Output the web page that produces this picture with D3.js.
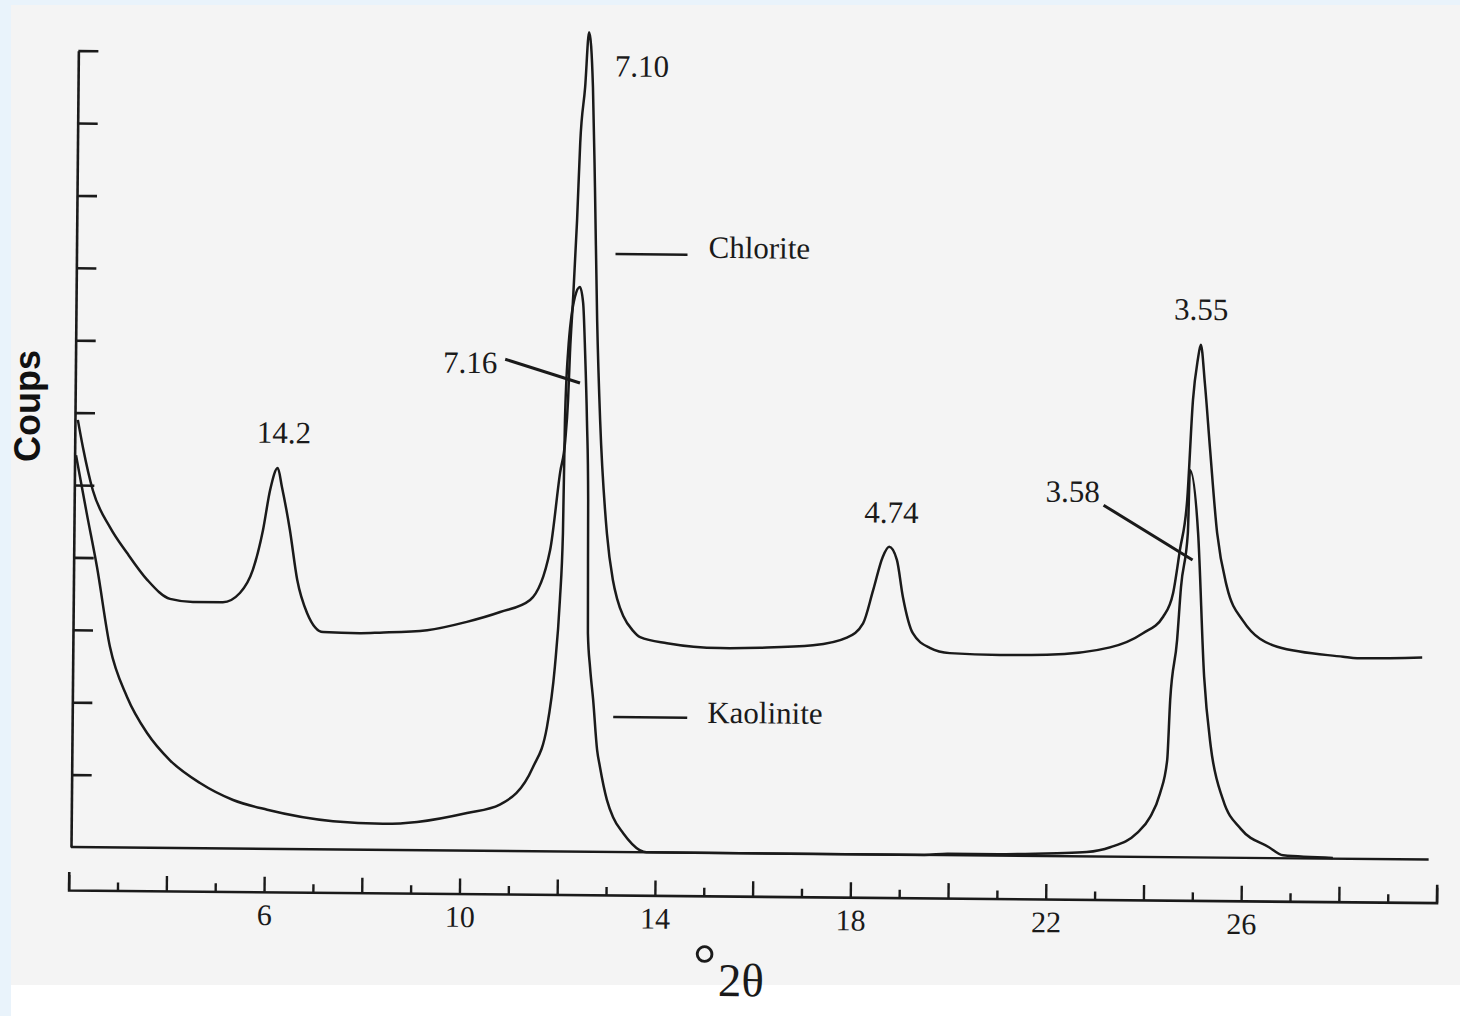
<!DOCTYPE html>
<html>
<head>
<meta charset="utf-8">
<script src="https://cdn.jsdelivr.net/npm/d3@7"></script>
<style>
  html, body { margin: 0; padding: 0; background: #e9f3fb; }
  svg { display: block; }
</style>
</head>
<body>
<svg id="chart" width="1460" height="1016"></svg>
<script>
// ---- Diffractogram traces: 2θ (degrees) and counts ----
const chloriteTheta = [
  2.10, 2.21, 2.42, 2.78, 3.13, 3.55, 4.02, 4.49, 5.10, 5.45, 5.71, 5.91, 6.05, 6.20, 6.29, 6.46,
  6.62, 6.83, 7.16, 7.91, 8.32, 9.29, 10.10, 10.78, 11.39, 11.79, 11.98, 12.08, 12.13, 12.16, 12.21,
  12.28, 12.33, 12.42, 12.49, 12.58, 12.64, 12.71, 12.79, 12.95, 13.08, 13.17, 13.30, 13.50, 13.65,
  14.20, 15.29, 16.11, 17.19, 17.88, 18.21, 18.41, 18.60, 18.73, 18.89, 19.02, 19.23, 19.58, 19.99,
  21.02, 21.98, 23.27, 23.94, 24.35, 24.55, 24.68, 24.82, 24.92, 25.01, 25.07, 25.16, 25.28, 25.44,
  25.65, 25.98, 26.69, 28.04, 28.33, 29.66
];
const chloriteCounts = [
  590, 552, 493, 442, 407, 370, 344, 340, 340, 353, 385, 440, 496, 526, 500, 441,
  372, 326, 300, 299, 300, 304, 316, 330, 347, 416, 523, 568, 624, 689, 759,
  872, 979, 1056, 1132, 1056, 918, 734, 596, 440, 376, 350, 326, 306, 297,
  289, 283, 284, 288, 299, 319, 365, 411, 425, 407, 356, 306, 286, 279,
  277, 278, 289, 309, 332, 365, 424, 493, 632, 687, 708, 655, 563, 448,
  374, 328, 292, 279, 277, 279
];

const kaoliniteTheta = [
  2.07, 2.30, 2.52, 2.80, 3.16, 3.58, 4.05, 4.67, 5.35, 6.05, 7.40, 8.42, 9.12, 10.14, 10.81,
  11.48, 11.76, 11.91, 12.00, 12.05, 12.07, 12.12, 12.25, 12.35, 12.42, 12.47, 12.52, 12.56,
  12.58, 12.63, 12.70, 12.79, 12.85, 13.00, 13.13, 13.34, 13.68, 13.82, 19.50, 19.99, 21.02,
  22.22, 22.83, 23.31, 23.86, 24.12, 24.32, 24.46, 24.51, 24.64, 24.71, 24.84, 24.87, 25.05,
  25.20, 25.35, 25.61, 25.98, 26.56, 26.85, 27.87
];
const kaoliniteCounts = [
  541, 461, 387, 277, 208, 158, 121, 90, 67, 54, 39, 36, 39, 52, 64,
  116, 172, 255, 347, 440, 596, 689, 766, 780, 758, 689, 596, 486,
  302, 255, 210, 141, 118, 72, 48, 26, 3, 0, 0, 2, 2,
  4, 6, 13, 33, 55, 88, 134, 217, 300, 373, 448, 535, 448,
  250, 153, 80, 40, 15, 4, 1
];

// Peak annotations: d-spacing (Å) and the trace each belongs to
const peakLabels  = ["14.2", "7.10", "7.16", "4.74", "3.58", "3.55"];
const peakSpacing = [14.2, 7.10, 7.16, 4.74, 3.58, 3.55];
const peakTrace   = ["chlorite", "chlorite", "kaolinite", "chlorite", "kaolinite", "chlorite"];

const seriesNames = ["Chlorite", "Kaolinite"];

// Axes
const xMajorTicks = [2, 4, 6, 8, 10, 12, 14, 16, 18, 20, 22, 24, 26, 28, 30];
const xMinorTicks = [3, 5, 7, 9, 11, 13, 15, 17, 19, 21, 23, 25, 27, 29];
const xTickLabels = [6, 10, 14, 18, 22, 26];
const yTickValues = [100, 200, 300, 400, 500, 600, 700, 800, 900, 1000, 1100];
const xTitle = "2θ";
const yTitle = "Coups";

// ---- Layout ----
const INK = "#1a1a1a";
const SERIF = "'Liberation Serif', 'Times New Roman', serif";
const tilt = 0.53;               // the printed plate sits slightly askew
const origin = { x: 71, y: 847 };

const svg = d3.select("#chart");

// paper
svg.append("rect").attr("x", 11).attr("y", 5).attr("width", 1449).attr("height", 980).attr("fill", "#f4f4f4");
svg.append("rect").attr("x", 11).attr("y", 985).attr("width", 1449).attr("height", 31).attr("fill", "#ffffff");

const x = d3.scaleLinear().domain([2, 30]).range([69, 1437]);
const y = d3.scaleLinear().domain([0, 1100]).range([847, 50.6]);

const g = svg.append("g").attr("transform", `rotate(${tilt},${origin.x},${origin.y})`);

// y axis with inward ticks
const yAxis = d3.axisRight(y).tickValues(yTickValues).tickSize(20).tickSizeOuter(0).tickFormat("");
const gy = g.append("g").attr("transform", `translate(${origin.x},0)`).call(yAxis);
gy.select(".domain").attr("stroke", INK).attr("stroke-width", 2.6);
gy.selectAll(".tick line").attr("stroke", INK).attr("stroke-width", 2.6);

// plot baseline
g.append("line")
  .attr("x1", origin.x).attr("x2", x(29.83))
  .attr("y1", y(0)).attr("y2", y(0))
  .attr("stroke", INK).attr("stroke-width", 2.4);

// separate 2θ ruler below the plot
const rulerY = 890;
const majorAxis = d3.axisBottom(x).tickValues(xMajorTicks).tickSize(-15).tickSizeOuter(-18)
  .tickPadding(12).tickFormat(d => xTickLabels.includes(d) ? d : "");
const gxMajor = g.append("g").attr("transform", `translate(0,${rulerY})`).call(majorAxis);
gxMajor.attr("font-size", 30).attr("font-family", SERIF);
gxMajor.select(".domain").attr("stroke", INK).attr("stroke-width", 2.6);
gxMajor.selectAll(".tick line").attr("stroke", INK).attr("stroke-width", 2.4);
gxMajor.selectAll(".tick text")
  .attr("fill", INK).attr("font-family", SERIF).attr("font-size", 30);

const minorAxis = d3.axisBottom(x).tickValues(xMinorTicks).tickSize(-8).tickSizeOuter(0).tickFormat("");
const gxMinor = g.append("g").attr("transform", `translate(0,${rulerY})`).call(minorAxis);
gxMinor.select(".domain").remove();
gxMinor.selectAll(".tick line").attr("stroke", INK).attr("stroke-width", 2.4);

// x title: large raised degree ring before 2θ
const xt = g.append("text")
  .attr("x", 694).attr("y", 990)
  .attr("font-family", SERIF).attr("fill", INK);
xt.append("tspan").text("°").attr("font-size", 58).attr("dy", -12);
xt.append("tspan").text(xTitle).attr("font-size", 47).attr("dy", 12).attr("dx", 2);

// traces
const traces = {
  chlorite: d3.zip(chloriteTheta, chloriteCounts),
  kaolinite: d3.zip(kaoliniteTheta, kaoliniteCounts)
};
const line = d3.line().x(d => x(d[0])).y(d => y(d[1])).curve(d3.curveMonotoneX);

g.selectAll("path.trace")
  .data([traces.chlorite, traces.kaolinite])
  .join("path")
  .attr("class", "trace")
  .attr("d", line)
  .attr("fill", "none")
  .attr("stroke", INK)
  .attr("stroke-width", 2.5)
  .attr("stroke-linejoin", "round");

// series labels with a short rule before each name
const seriesLayout = [
  { x1: 610, x2: 682, yLine: 249, xText: 703, yText: 252 },
  { x1: 612, x2: 686, yLine: 712, xText: 706, yText: 717 }
];
seriesNames.forEach((name, i) => {
  const L = seriesLayout[i];
  g.append("line").attr("x1", L.x1).attr("x2", L.x2).attr("y1", L.yLine).attr("y2", L.yLine)
    .attr("stroke", INK).attr("stroke-width", 2.6);
  g.append("text").attr("x", L.xText).attr("y", L.yText).text(name)
    .attr("font-family", SERIF).attr("font-size", 31).attr("fill", INK);
});

// peak annotations, anchored on the apex of the trace near the Bragg angle (Cu Kα)
const lambda = 1.5406;
const braggTheta = d => 2 * Math.asin(lambda / (2 * d)) * 180 / Math.PI;
function apex(trace, t0) {
  let best = null;
  trace.forEach(p => {
    if (Math.abs(p[0] - t0) <= 0.25 && (!best || p[1] > best[1])) best = p;
  });
  return best;
}
const labelLayout = [
  { dx: 6,    dy: -25, anchor: "middle" },
  { dx: 26,   dy: 44,  anchor: "start" },
  { dx: -136, dy: 87,  anchor: "start", leader: [-74, 73, 1, 96] },
  { dx: 2,    dy: -24, anchor: "middle" },
  { dx: -144, dy: 33,  anchor: "start", leader: [-86, 36, 3.5, 90] },
  { dx: 0,    dy: -25, anchor: "middle" }
];
peakLabels.forEach((lab, i) => {
  const p = apex(traces[peakTrace[i]], braggTheta(peakSpacing[i]));
  const px = x(p[0]), py = y(p[1]);
  const L = labelLayout[i];
  g.append("text")
    .attr("x", px + L.dx).attr("y", py + L.dy)
    .attr("text-anchor", L.anchor)
    .attr("font-family", SERIF).attr("font-size", 31).attr("fill", INK)
    .text(lab);
  if (L.leader) {
    g.append("line")
      .attr("x1", px + L.leader[0]).attr("y1", py + L.leader[1])
      .attr("x2", px + L.leader[2]).attr("y2", py + L.leader[3])
      .attr("stroke", INK).attr("stroke-width", 3);
  }
});

// y title
svg.append("text")
  .attr("transform", "translate(40,406) rotate(-90)")
  .attr("text-anchor", "middle")
  .attr("font-family", "'Liberation Sans', Arial, sans-serif")
  .attr("font-weight", "bold")
  .attr("font-size", 36)
  .attr("fill", "#111")
  .text(yTitle);
</script>
</body>
</html>
